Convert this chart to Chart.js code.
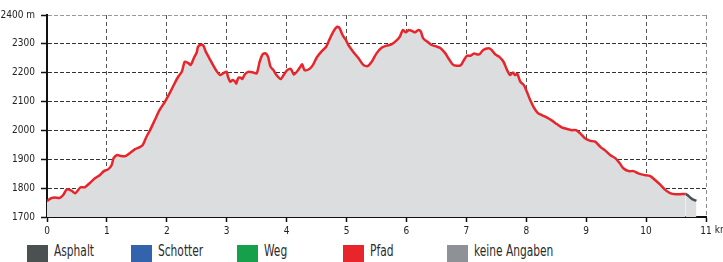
<!DOCTYPE html>
<html>
<head>
<meta charset="utf-8">
<script src="https://cdn.jsdelivr.net/npm/chart.js@4/dist/chart.umd.min.js"></script>
<style>
    body { margin: 0; background: #fff; }
    #wrap { position: relative; width: 723px; height: 262px; overflow: hidden; }
    #profile { position: absolute; left: 0; top: 0; }
    .leg { position: absolute; top: 245px; height: 17px; width: 21px; }
    .leg-text {
        position: absolute; top: 241px; font-size: 16px; color: #2b2b2b;
        font-family: "Liberation Sans Narrow", "DejaVu Sans Condensed", "Arial Narrow", sans-serif;
        white-space: nowrap;
        transform: scaleX(0.74);
        transform-origin: left top;
    }
</style>
</head>
<body>
<div id="wrap">
    <canvas id="profile" width="723" height="240"></canvas>
</div>
<script>
// Distance (km) and elevation (m)
const distKm = [
    0.00, 0.07, 0.13, 0.21, 0.27, 0.33, 0.41, 0.47, 0.56, 0.63, 0.71, 0.80, 0.88, 0.95,
    1.02, 1.08, 1.11, 1.17, 1.24, 1.31, 1.38, 1.47, 1.55, 1.60, 1.66, 1.72, 1.80, 1.88, 1.97,
    2.05, 2.13, 2.19, 2.25, 2.30, 2.36, 2.40, 2.45, 2.50, 2.52, 2.56, 2.61, 2.65, 2.71, 2.77, 2.83, 2.89, 2.94,
    3.00, 3.02, 3.06, 3.10, 3.14, 3.16, 3.19, 3.23, 3.26, 3.30, 3.36, 3.44, 3.50, 3.55, 3.60, 3.65, 3.69, 3.73, 3.78, 3.83, 3.90, 3.95,
    4.01, 4.07, 4.12, 4.18, 4.23, 4.26, 4.30, 4.38, 4.44, 4.50, 4.58, 4.66, 4.71, 4.78, 4.84, 4.88, 4.92, 4.95, 4.99,
    5.03, 5.11, 5.20, 5.28, 5.35, 5.42, 5.50, 5.59, 5.67, 5.75, 5.84, 5.89, 5.94, 5.99,
    6.04, 6.10, 6.14, 6.20, 6.24, 6.28, 6.35, 6.42, 6.51, 6.57, 6.65, 6.70, 6.77, 6.84, 6.91, 6.96,
    7.01, 7.07, 7.13, 7.17, 7.22, 7.28, 7.37, 7.42, 7.48, 7.55, 7.62, 7.68, 7.73, 7.78, 7.81, 7.85, 7.90, 7.96,
    8.01, 8.06, 8.12, 8.19, 8.26, 8.34, 8.43, 8.51, 8.59, 8.68, 8.76, 8.83, 8.90, 8.98,
    9.07, 9.15, 9.24, 9.32, 9.40, 9.49, 9.56, 9.62, 9.71, 9.79, 9.87, 9.96,
    10.07, 10.15, 10.24, 10.32, 10.41, 10.49, 10.57, 10.66, 10.69, 10.77, 10.84
];
const elevM = [
    1755, 1765, 1768, 1766, 1776, 1796, 1791, 1782, 1803, 1803, 1817, 1834, 1845, 1859,
    1865, 1880, 1903, 1915, 1911, 1911, 1921, 1935, 1942, 1950, 1978, 2001, 2036, 2071, 2100,
    2130, 2163, 2186, 2203, 2238, 2233, 2227, 2250, 2271, 2290, 2296, 2294, 2273, 2250, 2227, 2206, 2192, 2198,
    2203, 2186, 2169, 2175, 2169, 2163, 2181, 2183, 2178, 2194, 2203, 2201, 2198, 2238, 2264, 2267, 2255, 2221, 2209, 2192, 2178, 2192,
    2209, 2213, 2194, 2206, 2221, 2229, 2209, 2213, 2227, 2252, 2273, 2290, 2313, 2342, 2359, 2356, 2337, 2325, 2313,
    2296, 2273, 2250, 2227, 2223, 2238, 2267, 2287, 2294, 2298, 2313, 2325, 2348, 2340,
    2348, 2344, 2340, 2348, 2342, 2319, 2307, 2296, 2290, 2285, 2267, 2250, 2229, 2224, 2227, 2244,
    2259, 2259, 2267, 2264, 2264, 2279, 2285, 2279, 2264, 2255, 2238, 2209, 2192, 2201, 2192, 2196, 2169, 2157,
    2134, 2108, 2082, 2061, 2053, 2045, 2034, 2022, 2011, 2005, 2001, 2001, 1990, 1973,
    1964, 1961, 1942, 1930, 1915, 1903, 1886, 1869, 1859, 1859, 1851, 1846,
    1842, 1828, 1811, 1794, 1782, 1779, 1779, 1780, 1776, 1762, 1756
];
const asphaltFromKm = 10.66; // last bit of the route is asphalt

const surfaceNames = ['Asphalt', 'Schotter', 'Weg', 'Pfad', 'keine Angaben'];
const surfaceColors = ['#4b5151', '#3463ad', '#17a04b', '#e8252b', '#8e9196'];

const tickFont = { family: '"Liberation Sans Narrow", "DejaVu Sans Condensed", "Arial Narrow", sans-serif', size: 10 };

// legend boxes below the chart
const legendLeft = [27, 131, 237, 343, 447];
const wrap = document.getElementById('wrap');
surfaceNames.forEach((name, i) => {
    const box = document.createElement('div');
    box.className = 'leg';
    box.style.left = legendLeft[i] + 'px';
    box.style.background = surfaceColors[i];
    wrap.appendChild(box);
    const txt = document.createElement('div');
    txt.className = 'leg-text';
    txt.style.left = (legendLeft[i] + 27) + 'px';
    txt.textContent = name;
    wrap.appendChild(txt);
});

// unit "km" written after the last x tick label
const kmUnit = {
    id: 'kmUnit',
    afterDraw(chart) {
        const x = chart.scales.x;
        const ctx = chart.ctx;
        ctx.save();
        ctx.font = '10px ' + tickFont.family;
        ctx.fillStyle = '#222';
        ctx.textBaseline = 'top';
        const px = x.getPixelForValue(x.max) + ctx.measureText('11').width / 2 + 3;
        ctx.fillText('km', px, x.top + 8);
        ctx.restore();
    }
};

const points = distKm.map((d, i) => ({ x: d, y: elevM[i] }));

new Chart(document.getElementById('profile'), {
    type: 'line',
    data: {
        datasets: [{
            data: points,
            borderColor: surfaceColors[3],
            borderWidth: 2.5,
            backgroundColor: '#dcdddf',
            fill: 'start',
            pointRadius: 0,
            tension: 0.25,
            segment: {
                borderColor: ctx => ctx.p0.parsed.x >= asphaltFromKm ? surfaceColors[0] : surfaceColors[3]
            }
        }]
    },
    options: {
        responsive: false,
        animation: false,
        devicePixelRatio: 1,
        layout: { padding: { top: 15, right: 17, left: 0, bottom: 0 } },
        plugins: { legend: { display: false }, tooltip: { enabled: false } },
        scales: {
            x: {
                type: 'linear',
                min: 0,
                max: 11,
                afterFit: scale => { scale.height = 23; },
                ticks: {
                    stepSize: 1,
                    padding: 3,
                    color: '#222',
                    font: tickFont,
                    maxRotation: 0
                },
                grid: {
                    color: ctx => ctx.index === 11 ? '#888' : '#555',
                    lineWidth: 1,
                    tickLength: 5,
                    tickColor: '#111',
                    tickWidth: 1.5
                },
                border: { color: '#111', width: 2, dash: [4, 3] }
            },
            y: {
                min: 1700,
                max: 2400,
                afterFit: scale => { scale.width = 47; },
                ticks: {
                    stepSize: 100,
                    padding: 6,
                    color: '#222',
                    font: tickFont,
                    callback: v => v === 2400 ? '2400 m' : v
                },
                grid: {
                    color: ctx => ctx.tick && ctx.tick.value === 2400 ? '#999' : '#333',
                    lineWidth: 1,
                    tickLength: 6,
                    tickColor: '#111',
                    tickWidth: 1.5
                },
                border: { color: '#111', width: 2, dash: [4, 2] }
            }
        }
    },
    plugins: [kmUnit]
});
</script>
</body>
</html>
